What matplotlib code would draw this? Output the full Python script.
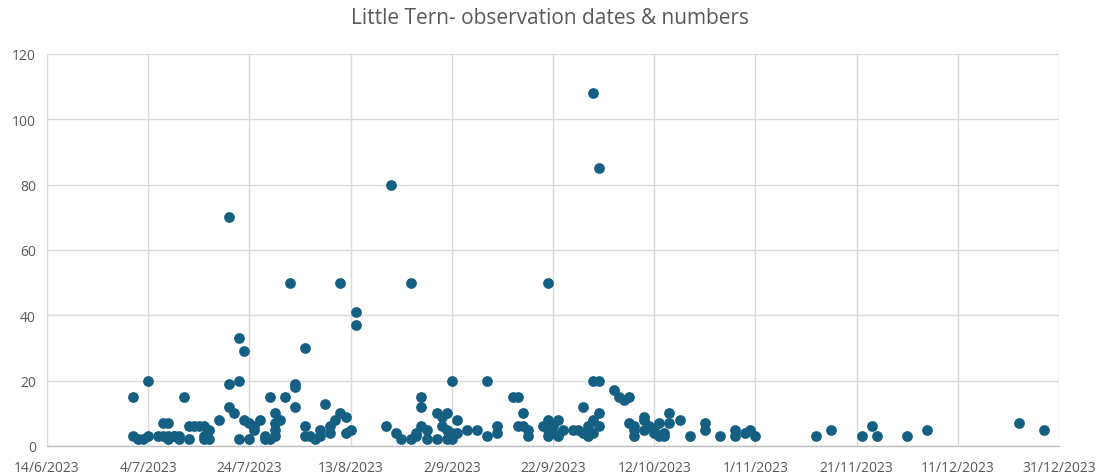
import matplotlib
matplotlib.use("Agg")
import matplotlib.pyplot as plt
import pandas as pd

plt.rcParams['font.family'] = ['Open Sans', 'DejaVu Sans']

# observation (date, count) pairs, grouped by date
obs_dates = [
    "2023-07-01", "2023-07-01", "2023-07-02", "2023-07-03", "2023-07-04", "2023-07-04",
    "2023-07-06", "2023-07-07", "2023-07-07", "2023-07-08", "2023-07-08", "2023-07-08",
    "2023-07-09", "2023-07-09", "2023-07-10", "2023-07-10", "2023-07-11", "2023-07-12",
    "2023-07-12", "2023-07-13", "2023-07-14", "2023-07-15", "2023-07-15", "2023-07-15",
    "2023-07-16", "2023-07-16", "2023-07-18", "2023-07-20", "2023-07-20", "2023-07-20",
    "2023-07-21", "2023-07-22", "2023-07-22", "2023-07-22", "2023-07-23", "2023-07-23",
    "2023-07-24", "2023-07-24", "2023-07-25", "2023-07-25", "2023-07-26", "2023-07-27",
    "2023-07-27", "2023-07-28", "2023-07-28", "2023-07-29", "2023-07-29", "2023-07-29",
    "2023-07-29", "2023-07-30", "2023-07-31", "2023-08-01", "2023-08-02", "2023-08-02",
    "2023-08-02", "2023-08-04", "2023-08-04", "2023-08-04", "2023-08-05", "2023-08-06",
    "2023-08-07", "2023-08-07", "2023-08-08", "2023-08-09", "2023-08-09", "2023-08-10",
    "2023-08-11", "2023-08-11", "2023-08-12", "2023-08-12", "2023-08-13", "2023-08-14",
    "2023-08-14", "2023-08-20", "2023-08-21", "2023-08-22", "2023-08-23", "2023-08-25",
    "2023-08-25", "2023-08-26", "2023-08-26", "2023-08-27", "2023-08-27", "2023-08-27",
    "2023-08-28", "2023-08-28", "2023-08-30", "2023-08-30", "2023-08-31", "2023-08-31",
    "2023-09-01", "2023-09-01", "2023-09-01", "2023-09-02", "2023-09-02", "2023-09-02",
    "2023-09-03", "2023-09-03", "2023-09-05", "2023-09-07", "2023-09-09", "2023-09-09",
    "2023-09-11", "2023-09-11", "2023-09-14", "2023-09-15", "2023-09-15", "2023-09-16",
    "2023-09-16", "2023-09-17", "2023-09-17", "2023-09-20", "2023-09-21", "2023-09-21",
    "2023-09-21", "2023-09-21", "2023-09-22", "2023-09-22", "2023-09-23", "2023-09-23",
    "2023-09-24", "2023-09-26", "2023-09-27", "2023-09-28", "2023-09-28", "2023-09-29",
    "2023-09-29", "2023-09-30", "2023-09-30", "2023-09-30", "2023-09-30", "2023-10-01",
    "2023-10-01", "2023-10-01", "2023-10-01", "2023-10-04", "2023-10-05", "2023-10-06",
    "2023-10-07", "2023-10-07", "2023-10-08", "2023-10-08", "2023-10-08", "2023-10-10",
    "2023-10-10", "2023-10-10", "2023-10-11", "2023-10-12", "2023-10-12", "2023-10-13",
    "2023-10-13", "2023-10-14", "2023-10-14", "2023-10-15", "2023-10-15", "2023-10-17",
    "2023-10-19", "2023-10-22", "2023-10-22", "2023-10-25", "2023-10-28", "2023-10-28",
    "2023-10-30", "2023-10-31", "2023-11-01", "2023-11-13", "2023-11-16", "2023-11-22",
    "2023-11-24", "2023-11-25", "2023-12-01", "2023-12-05", "2023-12-23", "2023-12-28",
]
obs_counts = [
    15, 3, 2, 2, 3, 20,
    3, 3, 7, 2, 7, 3,
    3, 3, 3, 2, 15, 6,
    2, 6, 6, 6, 3, 2,
    5, 2, 8, 70, 19, 12,
    10, 33, 20, 2, 29, 8,
    7, 2, 5, 6, 8, 2,
    3, 15, 2, 3, 5, 7,
    10, 8, 15, 50, 12, 19,
    18, 30, 6, 3, 3, 2,
    3, 5, 13, 4, 6, 8,
    10, 50, 9, 4, 5, 41,
    37, 6, 80, 4, 2, 50,
    2, 3, 4, 6, 15, 12,
    5, 2, 10, 2, 6, 9,
    2, 5, 10, 20, 4, 2,
    8, 4, 5, 5, 20, 3,
    6, 4, 15, 15, 6, 10,
    6, 3, 5, 6, 50, 3,
    8, 5, 6, 4, 8, 3,
    5, 5, 5, 12, 4, 6,
    3, 108, 8, 20, 4, 85,
    20, 10, 6, 17, 15, 14,
    15, 7, 3, 5, 6, 8,
    9, 5, 6, 5, 4, 3,
    7, 4, 3, 10, 7, 8,
    3, 5, 7, 3, 3, 5,
    4, 5, 3, 3, 5, 3,
    6, 3, 3, 5, 7, 5,
]

x_tick_dates = ["2023-06-14", "2023-07-04", "2023-07-24", "2023-08-13", "2023-09-02",
                "2023-09-22", "2023-10-12", "2023-11-01", "2023-11-21", "2023-12-11",
                "2023-12-31"]
y_ticks = [0, 20, 40, 60, 80, 100, 120]
title = "Little Tern- observation dates & numbers"

dates = pd.to_datetime(obs_dates)
tick_dt = pd.to_datetime(x_tick_dates)

fig = plt.figure(figsize=(11, 4.77), dpi=100)
ax = fig.add_axes([47/1100, 1-447/477, (1059-47)/1100, (447-55)/477])

ax.scatter(dates, obs_counts, s=60, color='#156082', zorder=3, linewidths=0)

ax.set_xlim(tick_dt[0], tick_dt[-1])
ax.set_ylim(0, 120)
ax.set_xticks(tick_dt)
ax.set_xticklabels([f"{d.day}/{d.month}/{d.year}" for d in tick_dt])
ax.set_yticks(y_ticks)

ax.grid(True, color='#d9d9d9', linewidth=1, zorder=0)
for s in ['top', 'right', 'left']:
    ax.spines[s].set_visible(False)
ax.spines['bottom'].set_color('#bfbfbf')
ax.spines['bottom'].set_linewidth(1)
ax.tick_params(axis='both', length=0, labelsize=10, colors='#595959')
ax.tick_params(axis='x', pad=10)
ax.tick_params(axis='y', pad=8)

fig.text(0.5, 1-18/477, title, ha='center', va='center', fontsize=15, color='#595959')

fig.savefig("out.png", dpi=100)
